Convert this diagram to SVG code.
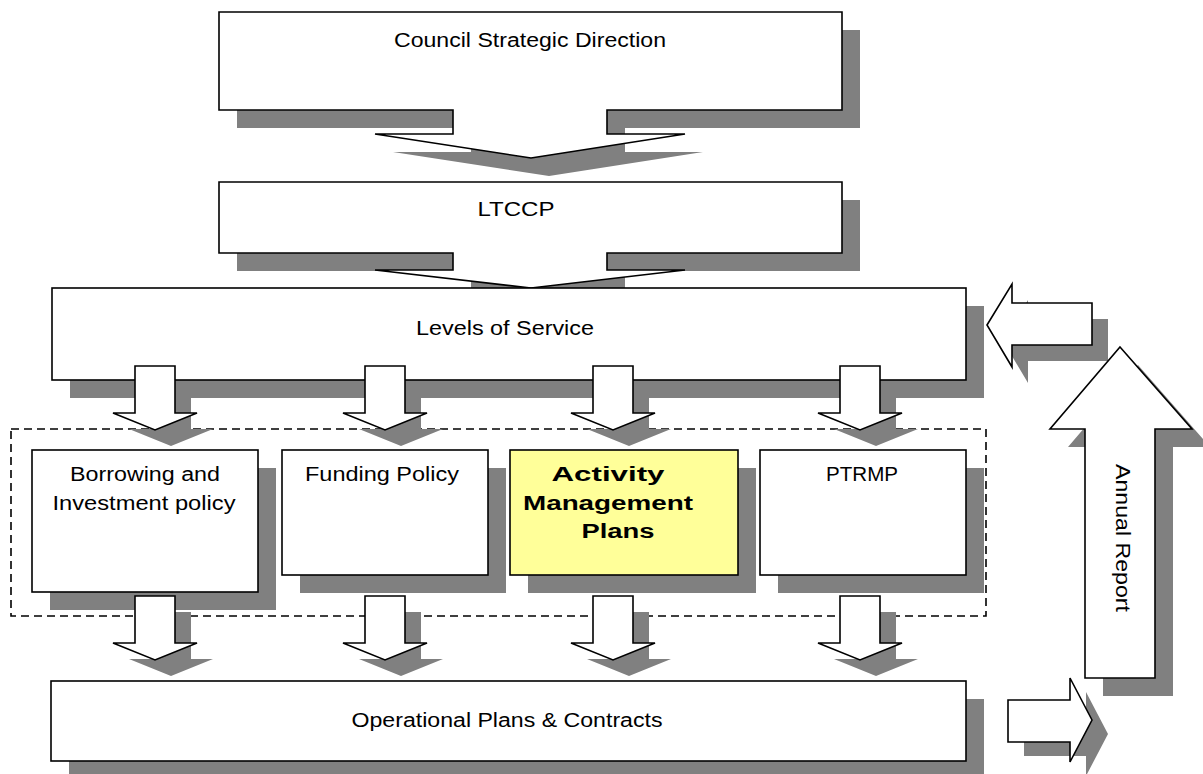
<svg xmlns="http://www.w3.org/2000/svg" width="1203" height="774" viewBox="0 0 1203 774">
  <style>
    .shadow { fill: #808080; stroke: none; }
    .shape { fill: #ffffff; stroke: #000000; stroke-width: 1.6; stroke-linejoin: miter; }
    .hl { fill: #ffff99; }
    .frame { fill: none; stroke: #000000; stroke-width: 1.6; stroke-dasharray: 8 5; }
    text { font-family: "Liberation Sans", Arial, sans-serif; font-size: 20px; fill: #000000; text-anchor: middle; }
    .bold { font-weight: bold; }
  </style>
  <defs>
    <!-- block arrow pointing down, origin at stem top centre -->
    <path id="downArrow" d="M-20,0 H20 V47 H42 L0,64 L-42,47 H-20 Z"/>
  </defs>
  <rect width="1203" height="774" fill="#ffffff"/>

  <!-- strategic direction with downward callout -->
  <g id="council-strategic-direction">
    <path class="shadow" transform="translate(18,18)" d="M219,12 H842 V110 H607 V134 H685 L531,158 L375,134 H453 V110 H219 Z"/>
    <path class="shape" d="M219,12 H842 V110 H607 V134 H685 L531,158 L375,134 H453 V110 H219 Z"/>
    <text x="530" y="47" textLength="272" lengthAdjust="spacingAndGlyphs">Council Strategic Direction</text>
  </g>

  <g id="ltccp">
    <path class="shadow" transform="translate(18,18)" d="M219,182 H842 V253 H607 V270 H685 L531,288 L375,270 H453 V253 H219 Z"/>
    <path class="shape" d="M219,182 H842 V253 H607 V270 H685 L531,288 L375,270 H453 V253 H219 Z"/>
    <text x="516" y="216" textLength="77" lengthAdjust="spacingAndGlyphs">LTCCP</text>
  </g>

  <g id="levels-of-service">
    <rect class="shadow" x="70" y="306" width="914" height="92"/>
    <rect class="shape" x="52" y="288" width="914" height="92"/>
    <text x="505" y="335" textLength="178" lengthAdjust="spacingAndGlyphs">Levels of Service</text>
  </g>

  <!-- dashed grouping round the policy documents -->
  <rect id="policy-group" class="frame" x="11" y="429" width="975" height="187"/>

  <g id="borrowing-investment">
    <rect class="shadow" x="50" y="468" width="226" height="142"/>
    <rect class="shape" x="32" y="450" width="226" height="142"/>
    <text x="145" y="481" textLength="150" lengthAdjust="spacingAndGlyphs">Borrowing and</text>
    <text x="144" y="510" textLength="183" lengthAdjust="spacingAndGlyphs">Investment policy</text>
  </g>

  <g id="funding-policy">
    <rect class="shadow" x="300" y="468" width="206" height="125"/>
    <rect class="shape" x="282" y="450" width="206" height="125"/>
    <text x="382" y="481" textLength="154" lengthAdjust="spacingAndGlyphs">Funding Policy</text>
  </g>

  <g id="activity-management-plans">
    <rect class="shadow" x="528" y="468" width="228" height="125"/>
    <rect class="shape hl" x="510" y="450" width="228" height="125"/>
    <text class="bold" x="608" y="481" textLength="113" lengthAdjust="spacingAndGlyphs">Activity</text>
    <text class="bold" x="608" y="510" textLength="170" lengthAdjust="spacingAndGlyphs">Management</text>
    <text class="bold" x="618" y="538" textLength="73" lengthAdjust="spacingAndGlyphs">Plans</text>
  </g>

  <g id="ptrmp">
    <rect class="shadow" x="778" y="468" width="206" height="125"/>
    <rect class="shape" x="760" y="450" width="206" height="125"/>
    <text x="862" y="481" textLength="72" lengthAdjust="spacingAndGlyphs">PTRMP</text>
  </g>

  <g id="operational-plans">
    <rect class="shadow" x="69" y="699" width="915" height="80"/>
    <rect class="shape" x="51" y="681" width="915" height="80"/>
    <text x="507" y="727" textLength="311" lengthAdjust="spacingAndGlyphs">Operational Plans &amp; Contracts</text>
  </g>

  <g id="connectors">
    <!-- levels of service down to each document -->
    <use href="#downArrow" class="shadow" x="171" y="382"/>
    <use href="#downArrow" class="shape" x="155" y="366"/>
    <use href="#downArrow" class="shadow" x="401" y="382"/>
    <use href="#downArrow" class="shape" x="385" y="366"/>
    <use href="#downArrow" class="shadow" x="629" y="382"/>
    <use href="#downArrow" class="shape" x="613" y="366"/>
    <use href="#downArrow" class="shadow" x="876" y="382"/>
    <use href="#downArrow" class="shape" x="860" y="366"/>

    <!-- documents down to operational plans -->
    <use href="#downArrow" class="shadow" x="171" y="612"/>
    <use href="#downArrow" class="shape" x="155" y="596"/>
    <use href="#downArrow" class="shadow" x="401" y="612"/>
    <use href="#downArrow" class="shape" x="385" y="596"/>
    <use href="#downArrow" class="shadow" x="629" y="612"/>
    <use href="#downArrow" class="shape" x="613" y="596"/>
    <use href="#downArrow" class="shadow" x="876" y="612"/>
    <use href="#downArrow" class="shape" x="860" y="596"/>

    <!-- feedback back into levels of service -->
    <path class="shadow" transform="translate(16,16)" d="M987,325 L1012,284 V303 H1092 V345 H1012 V367 Z"/>
    <path class="shape" d="M987,325 L1012,284 V303 H1092 V345 H1012 V367 Z"/>

    <!-- annual report, upward -->
    <g id="annual-report">
      <path class="shadow" transform="translate(18,18)" d="M1120,347 L1192,429 H1155 V678 H1085 V429 H1050 Z"/>
      <path class="shape" d="M1120,347 L1192,429 H1155 V678 H1085 V429 H1050 Z"/>
      <text transform="translate(1116,538) rotate(90)" textLength="148" lengthAdjust="spacingAndGlyphs">Annual Report</text>
    </g>

    <!-- operational plans out to the right -->
    <path class="shadow" transform="translate(16,14)" d="M1092,720 L1070,678 V700 H1008 V742 H1070 V762 Z"/>
    <path class="shape" d="M1092,720 L1070,678 V700 H1008 V742 H1070 V762 Z"/>
  </g>
</svg>
